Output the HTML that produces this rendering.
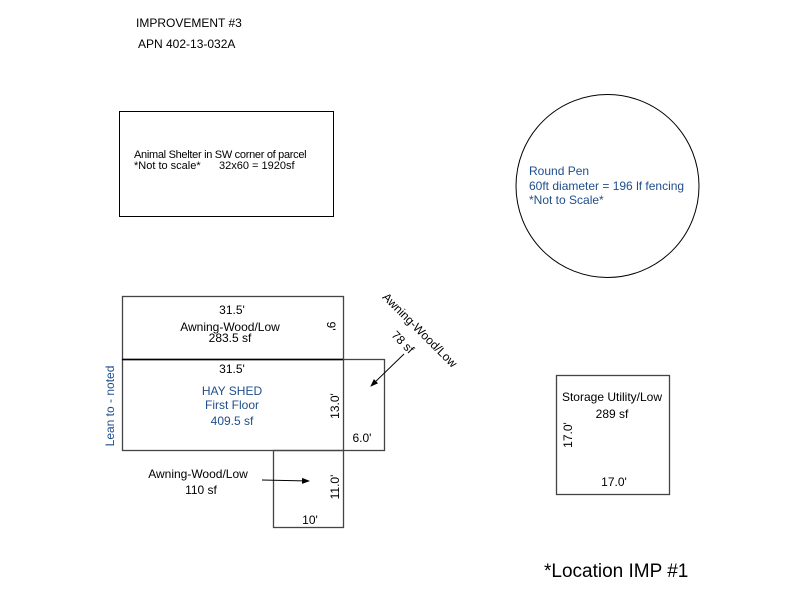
<!DOCTYPE html>
<html><head><meta charset="utf-8"><style>body{margin:0;background:#fff}svg{display:block}</style></head>
<body>
<svg width="800" height="600" xmlns="http://www.w3.org/2000/svg" font-family="Liberation Sans, sans-serif" font-size="12">
<defs><marker id="a" markerWidth="8" markerHeight="8" refX="7" refY="4" orient="auto" markerUnits="userSpaceOnUse"><path d="M0,1 L8,4 L0,7 z" fill="#000"/></marker></defs>
<text x="136" y="27" font-size="12">IMPROVEMENT #3</text>
<text x="138" y="48" font-size="12">APN 402-13-032A</text>
<rect x="119.5" y="111.5" width="214" height="105" fill="none" stroke="#000"/>
<text x="134" y="158" font-size="11" letter-spacing="-0.3">Animal Shelter in SW corner of parcel</text>
<text x="134" y="169" font-size="11">*Not to scale*&#160;&#160;&#160;&#160;&#160;&#160;32x60 = 1920sf</text>
<circle cx="607.5" cy="186" r="91.5" fill="none" stroke="#000"/>
<g fill="#1f4e8c"><text x="529" y="175">Round Pen</text><text x="529" y="190">60ft diameter = 196 lf fencing</text><text x="529" y="204">*Not to Scale*</text></g>
<g fill="none" stroke="#444" stroke-width="1.3">
<rect x="122.5" y="296.5" width="221" height="63"/>
<rect x="122.5" y="359.5" width="262" height="91"/>
<line x1="343.5" y1="359.5" x2="343.5" y2="450.5"/>
<rect x="273.5" y="450.5" width="70" height="77"/>
<rect x="556.5" y="375.5" width="113" height="119"/>
</g>
<line x1="122" y1="359.5" x2="343" y2="359.5" stroke="#000" stroke-width="1.5"/>
<g text-anchor="middle">
<text x="232" y="314">31.5'</text>
<text x="230" y="331">Awning-Wood/Low</text>
<text x="230" y="342">283.5 sf</text>
<text x="232" y="373">31.5'</text>
<g fill="#1f4e8c"><text x="232" y="395">HAY SHED</text><text x="232" y="409">First Floor</text><text x="232" y="425">409.5 sf</text></g>
<text x="362" y="442">6.0'</text>
<text x="198" y="478">Awning-Wood/Low</text>
<text x="201" y="494">110 sf</text>
<text x="310" y="524">10'</text>
<text x="612" y="401">Storage Utility/Low</text>
<text x="612" y="418">289 sf</text>
<text x="614" y="486">17.0'</text>
<text transform="translate(327,326) rotate(90)">9'</text>
<text transform="translate(339,406) rotate(-90)">13.0'</text>
<text transform="translate(339,487) rotate(-90)">11.0'</text>
<text transform="translate(572,435) rotate(-90)">17.0'</text>
<text transform="translate(114,406) rotate(-90)" fill="#1f4e8c">Lean to - noted</text>
<text transform="translate(417,333) rotate(45)">Awning-Wood/Low</text>
<text transform="translate(400,345) rotate(45)">78 sf</text>
</g>
<line x1="404" y1="354" x2="371" y2="386" stroke="#000" marker-end="url(#a)"/>
<line x1="262" y1="480" x2="309" y2="481" stroke="#000" marker-end="url(#a)"/>
<text x="544" y="577" font-size="19">*Location IMP #1</text>
</svg>
</body></html>
